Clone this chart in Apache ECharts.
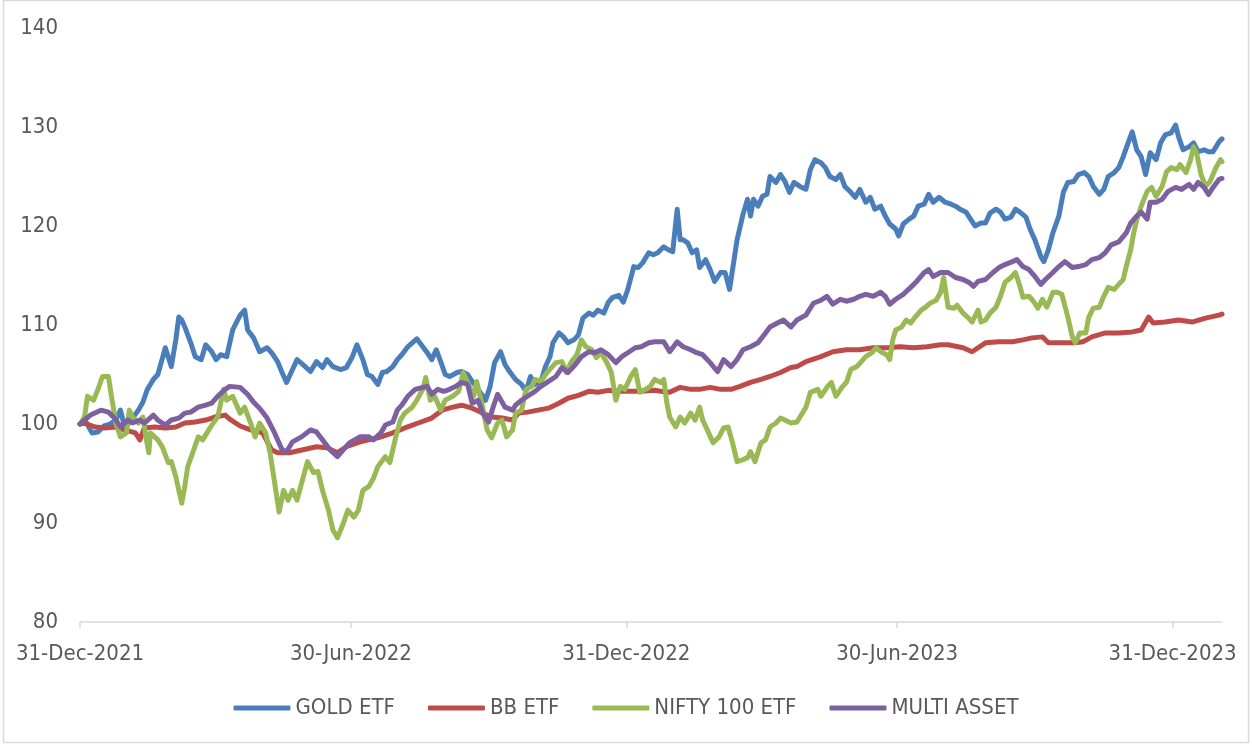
<!DOCTYPE html>
<html>
<head>
<meta charset="utf-8">
<script src="https://cdn.jsdelivr.net/npm/echarts@6/dist/echarts.min.js"></script>
<style>
html,body{margin:0;padding:0;background:#fff;}
#chart{width:1252px;height:744px;}
</style>
</head>
<body>
<div id="chart"></div>
<script>
// x values are days since 31-Dec-2021
const tickDays = [0, 181, 365, 546, 730];
const tickLabels = ['31-Dec-2021', '30-Jun-2022', '31-Dec-2022', '30-Jun-2023', '31-Dec-2023'];
const seriesNames = ['GOLD ETF', 'BB ETF', 'NIFTY 100 ETF', 'MULTI ASSET'];
const yTicks = [80, 90, 100, 110, 120, 130, 140];

const goldDays = [0,4,8,12,16,20,24,27,30,34,39,42,45,49,52,55,57,61,64,66,68,70,74,77,81,84,88,91,94,98,102,107,110,112,116,120,125,128,132,135,138,142,145,149,154,158,162,165,169,174,178,182,185,189,192,195,199,202,205,209,212,215,219,222,225,229,232,235,238,241,244,247,252,255,259,262,266,271,274,277,281,284,287,291,295,298,301,304,308,311,314,316,320,323,326,330,333,336,340,343,346,350,353,356,360,363,366,370,373,376,380,383,386,390,393,396,399,401,403,406,409,412,414,418,421,424,428,431,434,437,439,443,446,448,450,453,456,459,461,465,468,471,474,477,481,485,488,491,495,498,501,505,508,511,515,518,521,525,528,531,535,538,541,545,547,550,554,557,560,564,567,570,574,578,582,585,588,592,595,598,602,605,608,612,615,618,622,625,628,632,635,638,642,644,647,650,654,657,660,664,667,671,674,677,681,684,687,691,694,697,701,703,706,709,712,715,719,722,725,729,732,734,737,741,744,747,751,754,757,761,763];
const goldVals = [100,100.2,99.1,99.2,99.8,100.0,100.4,101.4,99.6,100.4,101.4,102.2,103.5,104.5,105,106.6,107.7,105.8,108.5,110.8,110.5,109.8,108.2,106.8,106.5,108,107.3,106.5,107,106.8,109.5,111,111.5,109.5,108.7,107.3,107.7,107.2,106.3,105.2,104.2,105.5,106.5,106,105.3,106.3,105.7,106.5,105.8,105.5,105.7,106.8,108,106.5,105,104.8,104,105.2,105.3,105.8,106.5,107,107.8,108.2,108.6,107.8,107.2,106.5,107.5,106.3,105,104.8,105.2,105.3,105,104.3,103.5,102.4,103.8,106.2,107.3,106,105.3,104.5,104,103.3,104.8,104,104.3,105.8,106.8,108.2,109.2,108.8,108.2,108.5,109,110.7,111.2,111,111.5,111.2,112.3,112.8,113,112.3,113.6,115.9,115.8,116.3,117.3,117.1,117.3,117.9,117.6,117.4,121.7,118.6,118.6,118.3,117.3,117.6,115.8,116.6,115.6,114.4,115.3,115.3,113.6,116.6,118.6,121.2,122.7,121,122.7,122,123,123.2,125,124.4,125.2,124.5,123.4,124.4,124,123.7,125.7,126.7,126.4,125.9,125,124.7,125.2,124,123.4,122.9,123.7,122.4,122.9,121.7,122,121,120.2,119.7,119,120.2,120.7,121,122,122.2,123.2,122.4,122.9,122.4,122.2,122,121.7,121.4,120.7,120,120.3,120.3,121.3,121.7,121.4,120.7,120.9,121.7,121.4,120.9,119.6,118.6,116.9,116.4,117.6,119.3,121,123.4,124.4,124.5,125.2,125.4,125,124,123.2,123.7,125,125.4,125.9,127,128.7,129.5,127.7,127,125.2,127.4,126.7,128.4,129.2,129.4,130.2,129,127.7,128,128.4,127.5,127.7,127.5,127.5,128.5,128.8];

const bbDays = [0,3,10,17,23,30,37,40,43,50,57,64,70,77,84,90,97,100,107,114,122,128,132,140,149,158,165,172,178,187,193,199,209,217,226,235,242,249,255,262,269,275,282,289,293,299,306,313,320,326,333,340,346,353,360,366,375,384,388,394,401,408,414,421,428,435,441,448,455,461,468,475,479,485,495,503,512,521,530,539,548,557,566,575,580,590,596,605,614,623,630,636,643,647,656,665,670,676,685,694,703,709,714,717,725,734,743,752,761,763];
const bbVals = [100,100.1,99.7,99.6,99.7,99.4,99.1,98.4,99.6,99.7,99.6,99.7,100.1,100.2,100.4,100.7,100.9,100.5,99.8,99.4,99.1,97.4,97.1,97.1,97.4,97.7,97.6,97.1,97.7,98.2,98.4,98.6,99.1,99.6,100.1,100.6,101.4,101.7,101.9,101.6,101.1,100.7,100.6,100.4,101.1,101.2,101.4,101.6,102.1,102.6,102.9,103.3,103.2,103.4,103.3,103.3,103.3,103.4,103.3,103.2,103.7,103.5,103.5,103.7,103.5,103.5,103.8,104.2,104.5,104.8,105.2,105.7,105.8,106.3,106.8,107.3,107.5,107.5,107.7,107.7,107.8,107.7,107.8,108,108,107.7,107.3,108.2,108.3,108.3,108.5,108.7,108.8,108.2,108.2,108.2,108.3,108.8,109.2,109.2,109.3,109.5,110.8,110.2,110.3,110.5,110.3,110.7,111,111.1];

const niftyDays = [0,3,5,9,12,15,19,21,24,27,31,33,35,39,42,44,46,47,52,55,59,61,64,66,68,70,72,76,79,82,86,89,92,96,98,102,107,110,114,117,120,124,127,130,133,136,139,142,145,148,152,156,159,162,166,169,172,176,179,183,186,189,193,196,199,204,207,211,214,217,222,225,229,231,234,237,241,244,249,253,256,259,263,265,269,272,275,279,282,285,289,291,295,298,302,304,308,312,315,318,322,325,328,332,335,338,342,345,348,352,355,358,361,364,368,371,374,378,381,384,388,390,392,394,398,401,404,408,411,414,416,420,423,427,430,433,436,439,443,446,448,451,455,458,461,465,468,471,475,479,485,488,493,495,499,502,505,509,512,515,519,522,525,529,532,535,539,541,543,545,549,552,555,558,562,565,568,572,575,577,580,584,586,590,593,596,600,602,605,608,612,615,618,622,625,628,630,634,637,640,643,646,650,653,656,660,663,665,668,672,674,677,681,684,687,691,694,697,699,702,704,706,709,713,716,719,723,726,729,733,735,739,742,744,746,749,752,755,759,762,763];
const niftyVals = [100,100.7,102.8,102.4,103.5,104.8,104.8,102.8,100.1,98.7,99.1,101.4,100.7,100.1,100.7,98.7,97.1,99.1,98.4,97.7,96.1,96.2,94.7,93.3,92,93.7,95.7,97.4,98.7,98.4,99.4,100.1,100.7,103.5,102.4,102.8,101.1,101.7,100.1,98.7,100.1,99.1,97.1,94.1,91.1,93.3,92.3,93.3,92.3,94,96.2,95.1,95.2,93.3,91.3,89.3,88.5,90,91.3,90.6,91.3,93.3,93.7,94.5,95.7,96.7,96.1,98.7,100.4,101.1,101.7,102.4,103.5,104.7,102.4,102.8,101.4,102.4,102.8,103.3,105.2,104.2,102.8,104.3,101.7,99.4,98.6,100.1,100.4,98.7,99.4,101.1,101.4,103.5,103.8,104.5,104.3,105.2,105.7,106.2,106.3,105.2,106.2,107,108.5,107.8,107.5,106.7,107.2,106.2,105.2,102.4,103.8,103.5,104.8,105.5,103.2,103.5,103.8,104.5,104.2,104.5,102.2,100.7,99.7,100.7,100.1,101.1,100.4,101.7,100.4,99.1,98.1,98.7,99.6,99.7,98.1,96.2,96.4,96.6,97.2,96.2,98.1,98.4,99.7,100.1,100.6,100.4,100.1,100.2,101.7,103.2,103.5,102.8,103.7,104.2,102.8,103.7,104.2,105.5,105.8,106.3,106.8,107.2,107.7,107.3,107,106.5,108.5,109.5,109.8,110.5,110.2,110.8,111.5,111.8,112.2,112.5,113.3,114.8,111.8,111.7,112,111.2,110.8,110.3,111.5,110.3,110.5,111.2,111.8,112.9,114.3,114.8,115.3,113.9,112.8,112.9,112.4,111.7,112.6,111.8,113.3,113.3,113.1,110.8,108.8,108.2,109.2,109.2,110.8,111.7,111.8,112.9,113.8,113.6,114.1,114.6,115.9,117.6,119.3,120.6,122,123.5,123.9,123,124,125.5,125.9,125.7,126.2,125.4,126.7,128,127.4,125.2,124,124.5,125.9,126.7,126.5];

const multiDays = [0,3,7,14,19,23,27,32,35,40,43,49,52,57,61,66,70,74,79,84,88,92,97,100,107,112,116,120,125,130,135,138,142,148,154,158,162,167,172,176,180,187,193,196,201,204,209,212,215,219,224,229,232,235,239,243,247,251,255,259,262,266,269,273,276,279,284,289,291,295,299,304,308,313,318,322,326,331,335,340,344,348,353,358,362,366,371,375,380,384,390,394,399,403,408,412,416,421,426,430,435,439,443,448,453,457,461,466,470,475,479,485,490,495,499,503,508,512,517,521,525,530,535,538,541,545,550,555,559,564,567,570,575,580,585,590,594,597,600,605,610,614,618,623,626,630,634,638,642,645,650,654,658,663,667,672,676,681,685,689,694,699,702,706,709,713,715,719,723,727,732,736,741,744,747,751,754,757,761,763];
const multiVals = [100,100.4,100.9,101.4,101.2,100.6,99.7,100.4,100.1,100.4,100.1,100.9,100.4,99.9,100.4,100.6,101.1,101.2,101.7,101.9,102.1,102.8,103.5,103.8,103.7,103,102.2,101.6,100.6,99.1,97.4,97.2,98.2,98.7,99.4,99.2,98.4,97.4,96.7,97.4,98.1,98.7,98.7,98.4,99.1,99.9,100.2,101.4,101.9,102.8,103.5,103.7,103.8,103,103.5,103.3,103.5,103.8,104.2,104,102.1,102.4,101.1,100.2,101.7,103,101.7,101.4,101.9,102.4,102.8,103.3,103.8,104.3,104.8,105.7,105.2,106,106.8,107.3,107.2,107.5,107,106.2,106.8,107.2,107.7,107.8,108.2,108.3,108.3,107.3,108.3,107.8,107.5,107.2,107,106.2,105.3,106.5,105.8,106.5,107.5,107.8,108.2,109,109.8,110.2,110.5,109.8,110.5,111,112.2,112.5,112.9,112.1,112.6,112.4,112.6,112.9,113.1,112.9,113.3,112.9,112.1,112.6,113.1,113.8,114.4,115.3,115.6,114.9,115.3,115.3,114.8,114.6,114.3,113.9,114.4,114.6,115.3,115.8,116.1,116.4,116.6,115.9,115.6,114.9,114.1,114.6,115.3,115.9,116.4,115.8,115.9,116.1,116.6,116.8,117.3,118.1,118.4,119.3,120.3,121,121.4,120.7,122.4,122.4,122.7,123.5,123.9,123.7,124.2,123.7,124.4,123.9,123.2,123.9,124.7,124.8];

const colors = ['#4A7EBB', '#BE4B48', '#98B954', '#7D60A0'];
const FONT = "'Liberation Sans Narrow', 'DejaVu Sans Condensed', 'Roboto Condensed', 'Liberation Sans', sans-serif";

function pairs(days, vals) {
  return days.map((d, i) => [d, vals[i]]);
}
const seriesData = [
  pairs(goldDays, goldVals),
  pairs(bbDays, bbVals),
  pairs(niftyDays, niftyVals),
  pairs(multiDays, multiVals)
];

const chart = echarts.init(document.getElementById('chart'), null, {renderer: 'canvas'});
chart.setOption({
  animation: false,
  backgroundColor: '#ffffff',
  color: colors,
  textStyle: {fontFamily: FONT},
  graphic: [{
    type: 'rect',
    shape: {x: 3.5, y: 0.5, width: 1245, height: 742},
    style: {fill: 'none', stroke: '#d9d9d9', lineWidth: 1.5},
    silent: true, z: 100
  }],
  grid: {left: 80, right: 30, top: 28, bottom: 122, containLabel: false, outerBoundsMode: 'none'},
  legend: {
    bottom: 20,
    left: 'center',
    icon: 'roundRect',
    itemWidth: 57,
    itemHeight: 5,
    itemGap: 33,
    data: seriesNames,
    textStyle: {color: '#595959', fontSize: 22, fontFamily: FONT}
  },
  xAxis: {
    type: 'value',
    min: 0,
    max: 763,
    splitLine: {show: false},
    axisLine: {show: true, lineStyle: {color: '#d9d9d9', width: 1.5}},
    axisTick: {show: true, length: 6, customValues: tickDays, lineStyle: {color: '#d9d9d9', width: 1.5}},
    axisLabel: {
      customValues: tickDays,
      color: '#595959', fontSize: 22, fontFamily: FONT, margin: 21,
      formatter: function (v) {
        const i = tickDays.indexOf(Math.round(v));
        return i >= 0 ? tickLabels[i] : '';
      }
    }
  },
  yAxis: {
    type: 'value',
    min: yTicks[0],
    max: yTicks[yTicks.length - 1],
    interval: 10,
    splitLine: {show: false},
    axisLine: {show: false},
    axisTick: {show: false},
    axisLabel: {color: '#595959', fontSize: 22, fontFamily: FONT, margin: 22}
  },
  series: seriesNames.map((name, i) => ({
    name: name,
    type: 'line',
    data: seriesData[i],
    showSymbol: false,
    symbol: 'none',
    lineStyle: {width: 5, color: colors[i], cap: 'round', join: 'round'},
    itemStyle: {color: colors[i]}
  }))
});
</script>
</body>
</html>
